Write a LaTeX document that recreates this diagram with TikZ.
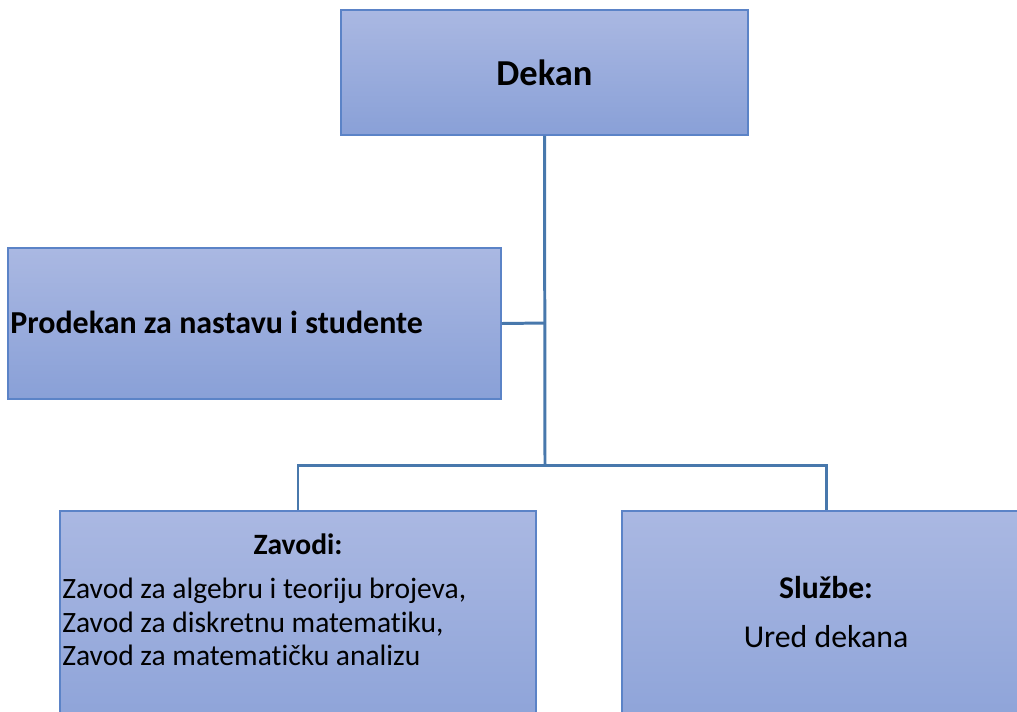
\documentclass[tikz,border=0pt]{standalone}
\usepackage{fontspec}
\setmainfont{Carlito}[Ligatures=NoCommon]
\usetikzlibrary{positioning}

\definecolor{boxtop}{RGB}{170,184,226}
\definecolor{boxbottom}{RGB}{137,160,215}
\definecolor{boxline}{RGB}{91,131,199}
\definecolor{linkblue}{RGB}{72,120,172}

\begin{document}
\begin{tikzpicture}[x=0.02cm, y=-0.02cm,
        orgbox/.style = {draw=boxline, line width=0.9pt, top color=boxtop, bottom color=boxbottom, inner sep=0pt},
        link/.style = {draw=linkblue, line width=1.7pt},
        boldtext/.style = {font=\bfseries\fontsize{#1}{#1}\selectfont, inner sep=0pt},
        plaintext/.style = {font=\fontsize{#1}{#1}\selectfont, inner sep=0pt},
    ]
    \useasboundingbox (0,0) rectangle (1017,711);
    \clip (0,0) rectangle (1017,711);
    % connectors
    \coordinate (trunk) at (545,465);
    \coordinate (leftbend) at (298,465);
    \coordinate (rightbend) at (826,465);
    \coordinate (sidejoin) at (545,323);
    %
    \node[orgbox, minimum width=8.14cm, minimum height=2.5cm]  (dekan) at (544.5,72.5) {};
    \node[orgbox, minimum width=9.86cm, minimum height=3.02cm] (prodekan) at (254.5,323.5) {};
    \node[orgbox, minimum width=9.52cm, minimum height=4.98cm] (zavodi) at (298,635.5) {};
    \node[orgbox, minimum width=8.16cm, minimum height=4.98cm] (sluzbe) at (826,635.5) {};
    %
    \draw[link] (dekan.south) -- (trunk);
    \draw[link] (prodekan.east) -- (sidejoin);
    \draw[link] (zavodi.north) -- (leftbend) -- (rightbend) -- (sluzbe.north);
    %
    \node[boldtext=20.8]  (dekan_txt) at (dekan.center) {Dekan};
    \node[boldtext=18.2, anchor=base west] (prodekan_txt) at (10,333) {Prodekan za nastavu i studente};
    \node[boldtext=16.8, anchor=base] (zavodi_txt) at (298,554) {Zavodi:};
    \node[plaintext=16.8, anchor=base west] (zavod_a) at (62,598) {Zavod za algebru i teoriju brojeva,};
    \node[plaintext=16.8, anchor=base west] (zavod_b) at (62,632) {Zavod za diskretnu matematiku,};
    \node[plaintext=16.8, anchor=base west] (zavod_c) at (62,665) {Zavod za matematičku analizu};
    \node[boldtext=18, anchor=base] (sluzbe_txt) at (826,598) {Službe:};
    \node[plaintext=18.1, anchor=base] (ured_txt) at (826,647) {Ured dekana};
    %
\end{tikzpicture}
\end{document}
